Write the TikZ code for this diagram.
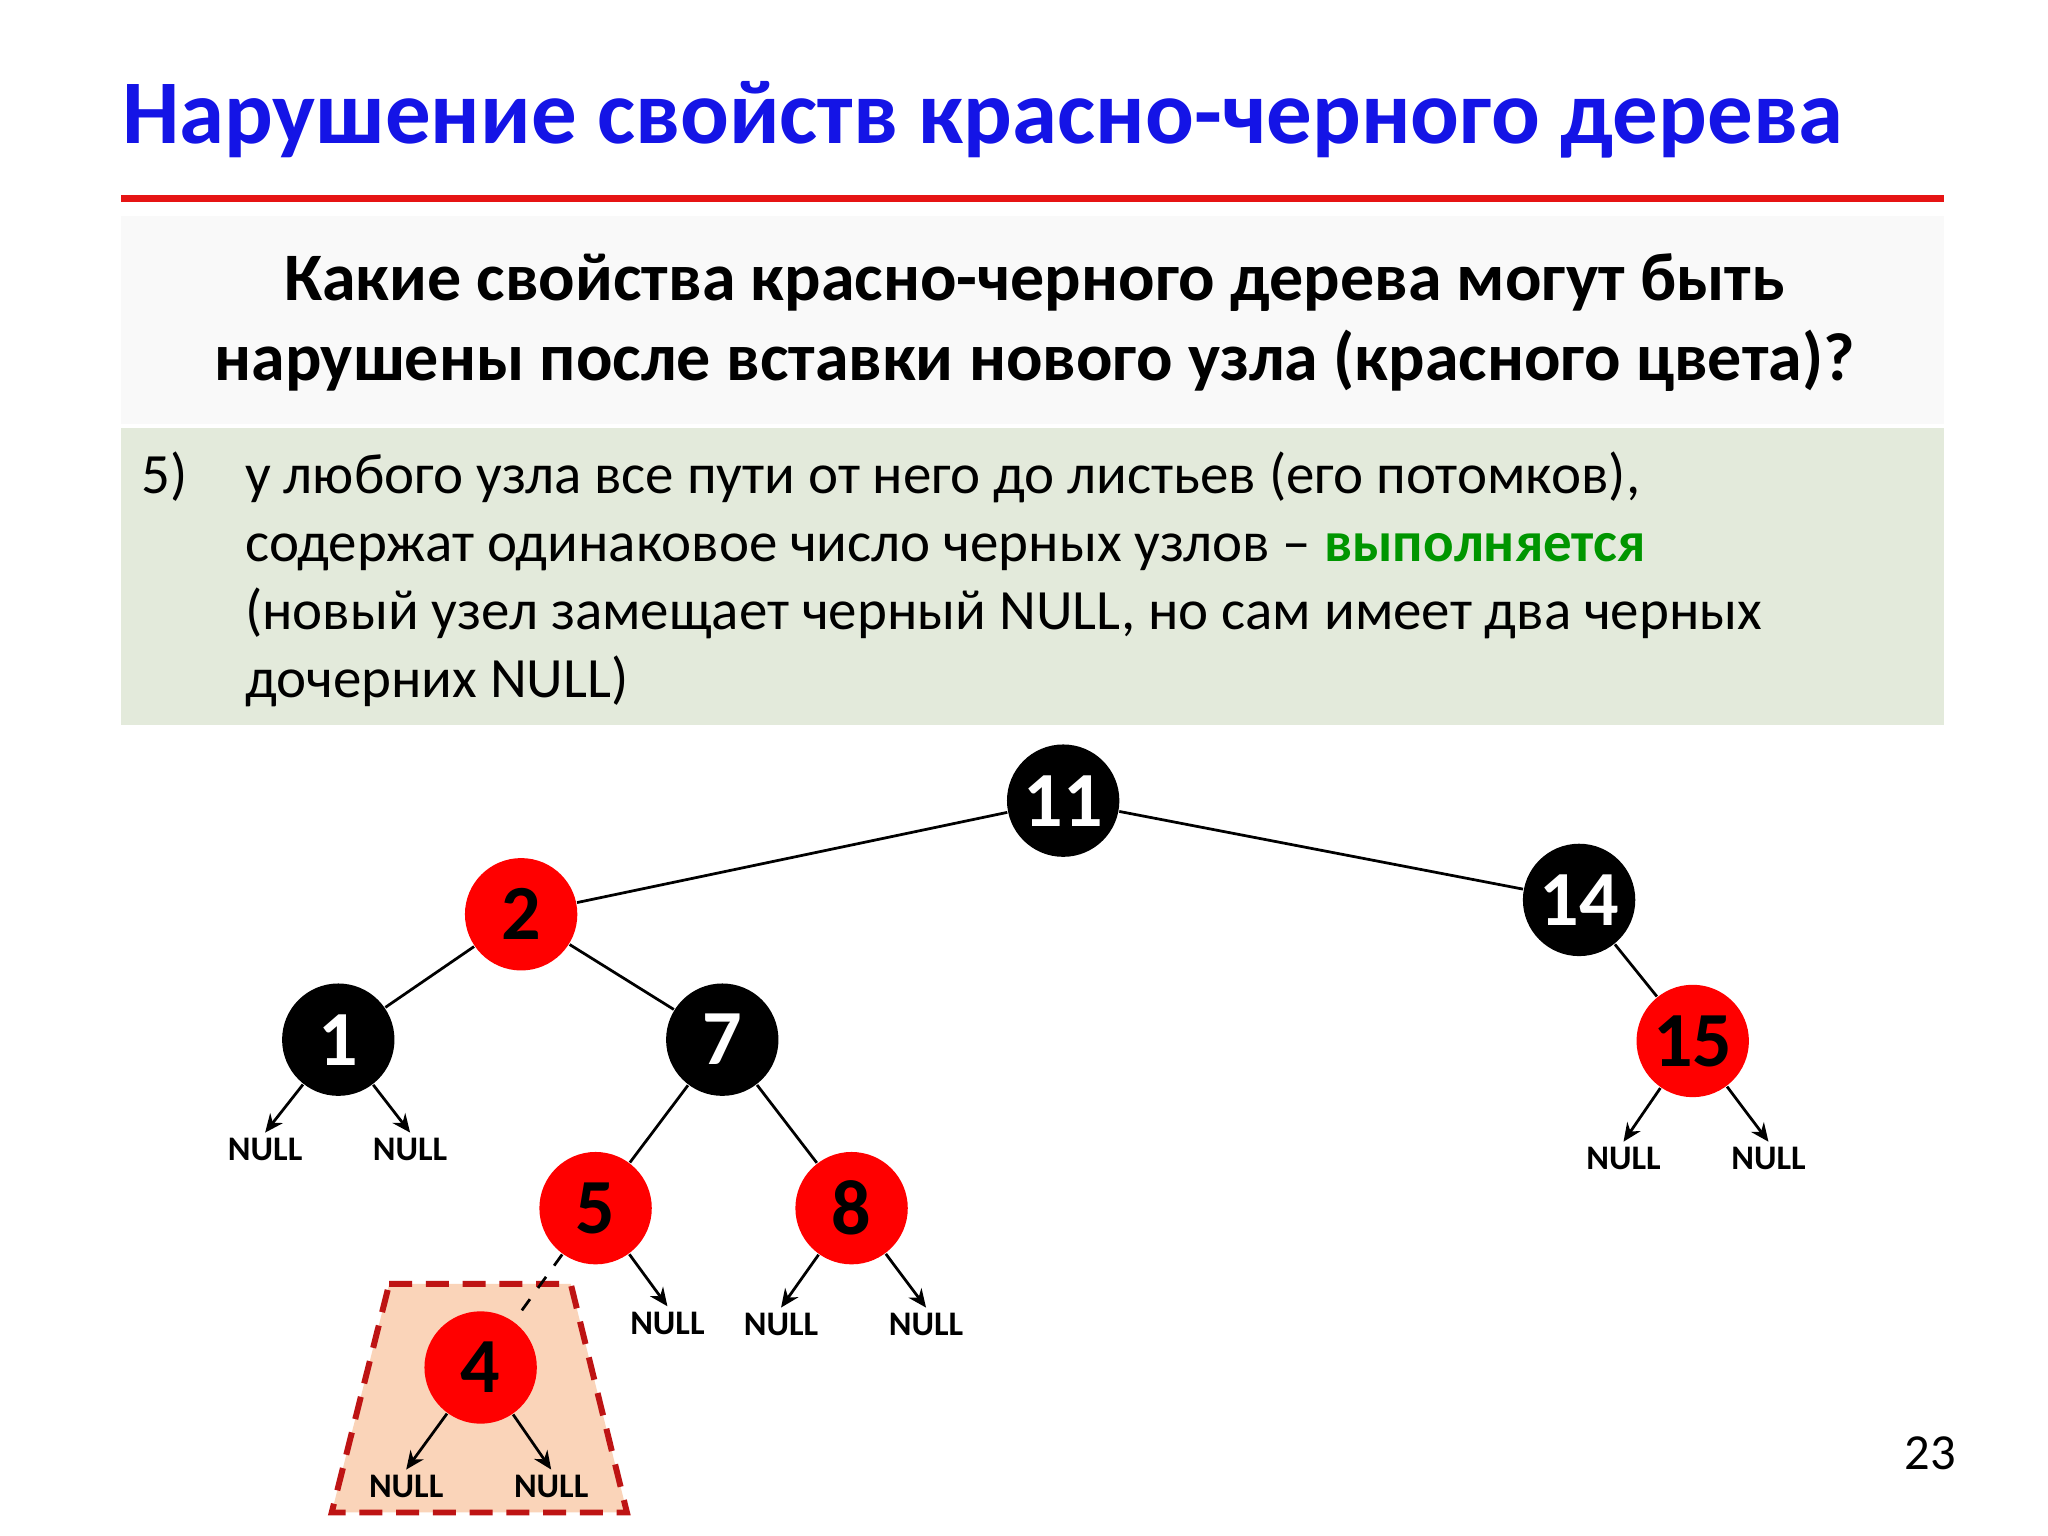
\documentclass[tikz,border=0pt]{standalone}
\usepackage{fontspec}
\setmainfont{Carlito}
\usetikzlibrary{arrows.meta}
\definecolor{tblue}{RGB}{20,20,230}
\definecolor{rred}{RGB}{230,20,20}
\definecolor{nred}{RGB}{255,0,0}
\definecolor{gbox}{RGB}{227,234,219}
\definecolor{okgreen}{RGB}{0,150,0}
\definecolor{peach}{RGB}{250,212,185}
\definecolor{dred}{RGB}{190,20,20}
\tikzset{
 rb/.style={circle,minimum size=0.86cm,inner sep=0pt,font=\fontsize{17}{17}\selectfont\bfseries},
 blk/.style={rb,fill=black,text=white},
 redn/.style={rb,fill=nred,text=black},
 nul/.style={font=\fontsize{7.5}{8}\selectfont\bfseries,inner sep=1pt},
 edge/.style={line width=0.6pt},
 arr/.style={line width=0.6pt,-{Stealth[length=4pt,width=3.5pt]}},
 ln/.style={anchor=base west,inner sep=0pt,font=\fontsize{12.4}{15}\selectfont},
}
\begin{document}
\begin{tikzpicture}[x=0.01cm,y=-0.01cm]
\useasboundingbox (0,0) rectangle (1568,1176);
\fill[white] (0,0) rectangle (1568,1176);
\node[anchor=base west,inner sep=0pt,text=tblue,font=\fontsize{19.8}{20}\selectfont\bfseries] (title) at (93,110) {Нарушение свойств красно-черного дерева};
\draw[rred,line width=1.4pt] (93,152) -- (1488,152);
\fill[gray!5] (93,165) rectangle (1488,325);
\node[anchor=base,inner sep=0pt,font=\fontsize{14.8}{16}\selectfont\bfseries] (q1) at (792,230) {Какие свойства красно-черного дерева могут быть};
\node[anchor=base,inner sep=0pt,font=\fontsize{14.8}{16}\selectfont\bfseries] (q2) at (792,291) {нарушены после вставки нового узла (красного цвета)?};
\fill[gbox] (93,328) rectangle (1488,555);
\node[ln] (n5) at (108,378) {5)};
\node[ln] (l1) at (187,378) {у любого узла все пути от него до листьев (его потомков),};
\node[ln] (l2) at (187,430) {содержат одинаковое число черных узлов – \textcolor{okgreen}{\bfseries выполняется}};
\node[ln] (l3) at (187,482) {(новый узел замещает черный NULL, но сам имеет два черных};
\node[ln] (l4) at (187,534) {дочерних NULL)};
\node[anchor=base,inner sep=0pt,font=\fontsize{11}{12}\selectfont] (pg) at (1478,1125) {23};
% trapezoid
\draw[fill=peach,draw=dred,line width=1.3pt,dash pattern=on 5pt off 3pt] (298,983) -- (437,983) -- (480,1158) -- (254,1158) -- cycle;
% nodes
\node[blk] (a11) at (814,613) {11};
\node[redn] (a2) at (399,700) {2};
\node[blk] (a14) at (1209,689) {14};
\node[blk] (a1) at (259,796) {1};
\node[blk] (a7) at (553,796) {7};
\node[redn] (a15) at (1296,797) {15};
\node[redn] (a5) at (456,925) {5};
\node[redn] (a8) at (652,925) {8};
\node[redn] (a4) at (368,1047) {4};
\draw[edge] (a11)--(a2); \draw[edge] (a11)--(a14);
\draw[edge] (a2)--(a1); \draw[edge] (a2)--(a7);
\draw[edge] (a14)--(a15);
\draw[edge] (a7)--(a5); \draw[edge] (a7)--(a8);
\draw[edge,dashed] (a5)--(a4);
% NULLs
\node[nul] (u1) at (203,880) {NULL};
\node[nul] (u2) at (314,880) {NULL};
\node[nul] (u3) at (1243,887) {NULL};
\node[nul] (u4) at (1354,887) {NULL};
\node[nul] (u5) at (511,1013) {NULL};
\node[nul] (u6) at (598,1014) {NULL};
\node[nul] (u7) at (709,1014) {NULL};
\node[nul] (u8) at (311,1138) {NULL};
\node[nul] (u9) at (422,1138) {NULL};
\draw[arr] (a1)--(u1.north); \draw[arr] (a1)--(u2.north);
\draw[arr] (a15)--(u3.north); \draw[arr] (a15)--(u4.north);
\draw[arr] (a5)--(u5.north);
\draw[arr] (a8)--(u6.north); \draw[arr] (a8)--(u7.north);
\draw[arr] (a4)--(u8.north); \draw[arr] (a4)--(u9.north);
\end{tikzpicture}
\end{document}
